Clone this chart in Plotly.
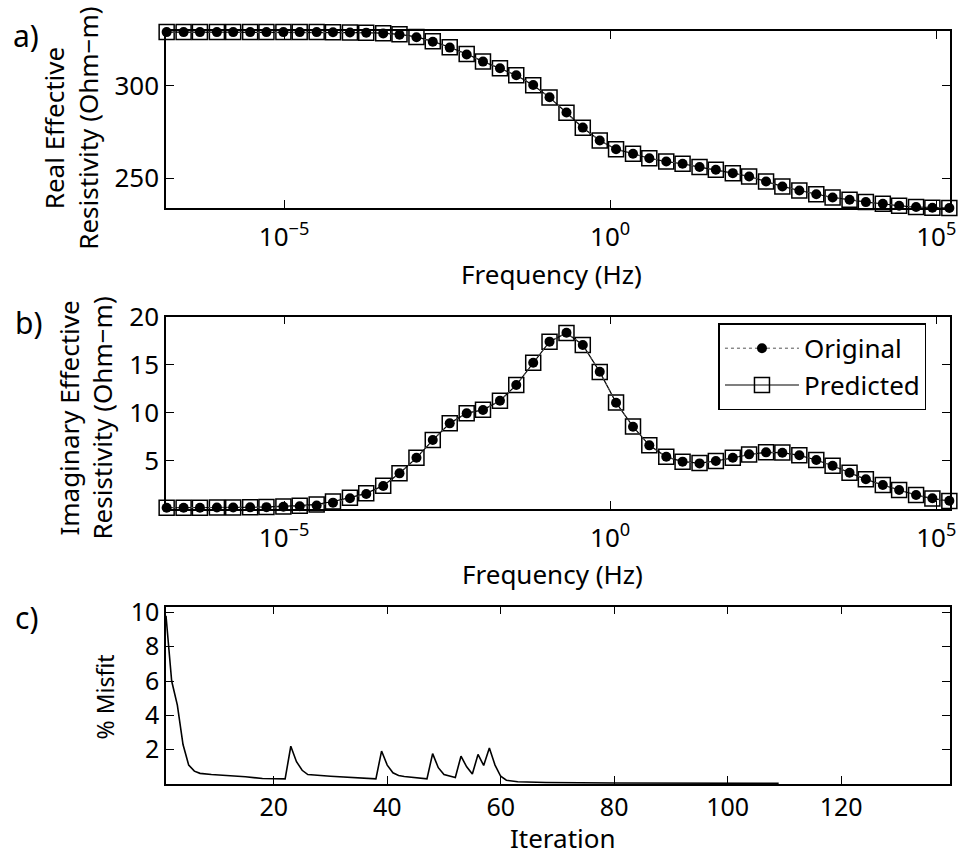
import plotly.graph_objects as go

# ---------------- data ----------------
freq_exp = [-6.80, -6.54, -6.29, -6.03, -5.78, -5.52, -5.27, -5.01, -4.76, -4.50,
            -4.25, -3.99, -3.74, -3.48, -3.23, -2.97, -2.72, -2.46, -2.20, -1.95,
            -1.69, -1.44, -1.18, -0.93, -0.67, -0.42, -0.16, 0.09, 0.35, 0.60,
            0.86, 1.11, 1.37, 1.62, 1.88, 2.13, 2.39, 2.64, 2.90, 3.16,
            3.41, 3.67, 3.92, 4.18, 4.43, 4.69, 4.94, 5.20]
freq_hz = [10 ** e for e in freq_exp]

real_original = [329.2, 329.2, 329.2, 329.2, 329.2, 329.2, 329.2, 329.2, 329.2, 329.2,
                 329.1, 329.0, 328.9, 328.5, 327.8, 326.4, 324.0, 320.8, 317.1, 313.2,
                 309.6, 305.8, 300.5, 293.9, 285.6, 277.4, 270.4, 265.7, 263.2, 260.8,
                 259.0, 257.8, 256.0, 254.5, 252.7, 250.9, 248.2, 245.5, 243.3, 241.3,
                 239.5, 238.3, 237.0, 236.1, 235.0, 234.3, 233.9, 233.8]
real_predicted = [329.2, 329.2, 329.2, 329.2, 329.2, 329.2, 329.2, 329.2, 329.2, 329.2,
                  329.1, 329.0, 328.9, 328.6, 328.0, 326.6, 324.2, 321.0, 317.3, 313.3,
                  309.6, 305.8, 300.4, 293.8, 285.5, 277.3, 270.4, 265.7, 263.2, 260.8,
                  259.0, 257.8, 256.0, 254.5, 252.7, 250.9, 248.2, 245.5, 243.3, 241.3,
                  239.5, 238.3, 237.0, 236.1, 235.0, 234.3, 233.9, 233.8]

imag_original = [0.10, 0.10, 0.10, 0.12, 0.13, 0.14, 0.16, 0.20, 0.25, 0.33,
                 0.63, 1.08, 1.53, 2.36, 3.68, 5.31, 7.15, 8.89, 9.93, 10.28,
                 11.25, 12.88, 15.21, 17.40, 18.33, 17.05, 14.27, 11.04, 8.54, 6.60,
                 5.42, 4.90, 4.72, 4.97, 5.31, 5.66, 5.87, 5.83, 5.56, 5.07,
                 4.48, 3.75, 3.06, 2.47, 1.94, 1.42, 1.08, 0.83]
imag_predicted = [0.10, 0.10, 0.10, 0.12, 0.13, 0.14, 0.18, 0.24, 0.32, 0.45,
                  0.75, 1.15, 1.60, 2.40, 3.70, 5.30, 7.15, 8.90, 9.95, 10.30,
                  11.25, 12.88, 15.20, 17.40, 18.30, 17.05, 14.25, 11.05, 8.55, 6.60,
                  5.40, 4.90, 4.75, 4.97, 5.30, 5.65, 5.87, 5.85, 5.56, 5.07,
                  4.48, 3.75, 3.06, 2.47, 1.94, 1.42, 1.05, 0.80]

iterations = [1, 2, 3, 4, 5, 6, 7, 9, 15, 18, 22, 23, 24, 25, 26, 30, 38, 39, 40,
              41, 42, 43, 47, 48, 49, 50, 52, 53, 54, 55, 56, 57, 58, 59, 60, 61,
              63, 68, 80, 109]
misfit = [9.8, 6.0, 4.6, 2.3, 1.1, 0.75, 0.62, 0.55, 0.42, 0.32, 0.30, 2.2, 1.3,
          0.8, 0.55, 0.45, 0.30, 1.92, 1.1, 0.65, 0.5, 0.44, 0.30, 1.77, 0.95, 0.55,
          0.38, 1.62, 1.0, 0.58, 1.72, 1.08, 2.1, 1.1, 0.45, 0.22, 0.13, 0.09, 0.06,
          0.04]

x_tickvals = [1e-5, 1, 1e5]
x_ticktext = ["10<sup>\u22125</sup>", "10<sup>0</sup>", "10<sup>5</sup>"]

# ---------------- figure ----------------
FONT = "Noto Sans"
L, R, T, B = 166, 6, 31, 72
W, H = 962, 856
PW, PH = W - L - R, H - T - B


def px2x(px):
    return (px - L) / PW


def py2y(py):
    return (H - B - py) / PH


fig = go.Figure()

panels = [("x", "y", real_original, real_predicted, False),
          ("x2", "y2", imag_original, imag_predicted, True)]
for xa, ya, orig, pred, show in panels:
    fig.add_trace(go.Scatter(
        x=freq_hz, y=pred, xaxis=xa, yaxis=ya, name="Predicted",
        mode="lines+markers", showlegend=show, legendrank=2, cliponaxis=False,
        line=dict(color="black", width=1.2),
        marker=dict(symbol="square-open", size=15, color="black",
                    line=dict(color="black", width=1.5))))
    fig.add_trace(go.Scatter(
        x=freq_hz, y=orig, xaxis=xa, yaxis=ya, name="Original",
        mode="lines+markers", showlegend=show, legendrank=1, cliponaxis=False,
        line=dict(color="#555555", width=1, dash="dot"),
        marker=dict(symbol="circle", size=10, color="black")))

fig.add_trace(go.Scatter(
    x=iterations, y=misfit, xaxis="x3", yaxis="y3", mode="lines",
    showlegend=False, line=dict(color="black", width=1.6)))

axis_common = dict(showline=True, linecolor="black", linewidth=1.5, mirror="ticks",
                   ticks="inside", ticklen=8, tickwidth=1.3, tickcolor="black",
                   showgrid=False, zeroline=False,
                   tickfont=dict(family=FONT, size=26, color="black"))

ya_dom = [py2y(208), py2y(31)]
yb_dom = [py2y(508.7), py2y(316.7)]
yc_dom = [py2y(784), py2y(606.7)]

fig.update_layout(
    width=W, height=H, margin=dict(l=L, r=R, t=T, b=B),
    paper_bgcolor="white", plot_bgcolor="white",
    font=dict(family=FONT, color="black"),
    xaxis=dict(axis_common, type="log", range=[-6.81, 5.21], domain=[0, 1],
               anchor="y", tickvals=x_tickvals, ticktext=x_ticktext,
               ticklabelstandoff=5),
    yaxis=dict(axis_common, range=[233.8, 329.8], domain=ya_dom, anchor="x",
               tickvals=[250, 300]),
    xaxis2=dict(axis_common, type="log", range=[-6.81, 5.21], domain=[0, 1],
                anchor="y2", tickvals=x_tickvals, ticktext=x_ticktext,
                ticklabelstandoff=5),
    yaxis2=dict(axis_common, range=[0, 20], domain=yb_dom, anchor="x2",
                tickvals=[5, 10, 15, 20]),
    xaxis3=dict(axis_common, range=[1, 139.2], domain=[0, 1], anchor="y3",
                tickvals=[20, 40, 60, 80, 100, 120],
                tickfont=dict(family=FONT, size=25, color="black")),
    yaxis3=dict(axis_common, range=[0, 10.33], domain=yc_dom, anchor="x3",
                tickvals=[2, 4, 6, 8, 10],
                tickfont=dict(family=FONT, size=25, color="black")),
    legend=dict(x=px2x(722.7), y=py2y(323.3), xanchor="left", yanchor="top",
                bgcolor="white", bordercolor="black", borderwidth=1.5,
                font=dict(family=FONT, size=26, color="black"),
                itemwidth=74, tracegroupgap=0),
)

annots = [
    dict(text="Real Effective<br>Resistivity (Ohm\u2212m)", x=px2x(70), y=py2y(128),
         textangle=-90, size=26),
    dict(text="Imaginary Effective<br>Resistivity (Ohm\u2212m)", x=px2x(85), y=py2y(418),
         textangle=-90, size=26),
    dict(text="% Misfit", x=px2x(105), y=py2y(697), textangle=-90, size=23),
    dict(text="Frequency (Hz)", x=px2x(554), y=py2y(274), textangle=0, size=26),
    dict(text="Frequency (Hz)", x=px2x(555), y=py2y(574), textangle=0, size=26),
    dict(text="Iteration", x=px2x(566), y=py2y(838), textangle=0, size=26),
    dict(text="a)", x=px2x(25), y=py2y(36), textangle=0, size=30),
    dict(text="b)", x=px2x(27), y=py2y(322), textangle=0, size=30),
    dict(text="c)", x=px2x(25), y=py2y(617), textangle=0, size=30),
]
for a in annots:
    fig.add_annotation(text=a["text"], x=a["x"], y=a["y"], xref="paper", yref="paper",
                       xanchor="center", yanchor="middle", showarrow=False,
                       textangle=a["textangle"],
                       font=dict(family=FONT, size=a["size"], color="black"))

fig.write_html("out.html")
